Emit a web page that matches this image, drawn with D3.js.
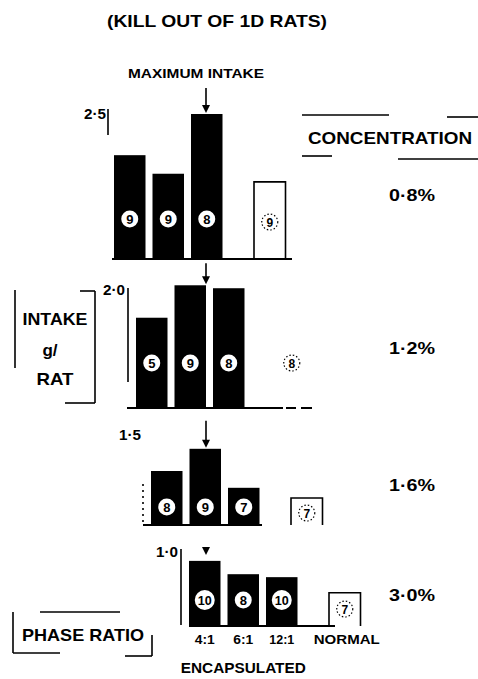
<!DOCTYPE html>
<html><head><meta charset="utf-8">
<script src="https://cdn.jsdelivr.net/npm/d3@7"></script>
<style>
body{margin:0;background:#fff}
svg{display:block}
text{font-family:"Liberation Sans",Arial,sans-serif;font-weight:bold;fill:#000}
</style>
</head><body><svg id="c" width="478" height="679"></svg>
<script>
// ---- data ----
const categories = ["4:1","6:1","12:1","NORMAL"];
const concentrations = ["0·8%","1·2%","1·6%","3·0%"];
const tickValues = [2.5, 2.0, 1.5, 1.0];
const tickLabels = ["2·5","2·0","1·5","1·0"];
const intake08 = [1.79, 1.47, 2.50, 1.33];
const intake12 = [1.53, 2.08, 2.03, 1.30];
const intake16 = [0.90, 1.27, 0.62, 0.45];
const intake30 = [0.88, 0.70, 0.66, 0.45];
const kills08 = [9, 9, 8, 9];
const kills12 = [5, 9, 8, 8];
const kills16 = [8, 9, 7, 7];
const kills30 = [10, 8, 10, 7];

// ---- layout ----
const svg = d3.select("#c");
const STEP = 38.5, BW = 31.5, NORMAL_OFF = 140, ARROW_X = 206;
const panels = [
  {intake:intake08, kills:kills08, base:259, x0:114, ppu:58, labY:219, axisX:108, axisY:[109,135], baseX:[112,292], showNormal:true, arrowLen:25, tickLx:106},
  {intake:intake12, kills:kills12, base:408, x0:136, ppu:59, labY:363, axisX:128, axisY:[288,382], baseX:[127,283], showNormal:false, arrowLen:21, tickLx:125, dashes:[[286,296],[301,312]]},
  {intake:intake16, kills:kills16, base:525, x0:151, ppu:60, labY:507, axisX:143, axisY:[484,525], baseX:[143,262], showNormal:true, arrowLen:27, tickLx:141, dotted:true},
  {intake:intake30, kills:kills30, base:626, x0:189, ppu:74, labY:600, axisX:181, axisY:[549,625], baseX:[189,335], showNormal:true, arrowLen:0, tickLx:178}
];

// title
svg.append("text").attr("x",217).attr("y",27).attr("text-anchor","middle")
  .attr("font-size",17).attr("textLength",220).attr("lengthAdjust","spacingAndGlyphs")
  .text("(KILL OUT OF 1D RATS)");
svg.append("text").attr("x",196).attr("y",78).attr("text-anchor","middle")
  .attr("font-size",13).attr("textLength",136).attr("lengthAdjust","spacingAndGlyphs")
  .text("MAXIMUM INTAKE");

panels.forEach((p, pi) => {
  const g = svg.append("g");
  const tv = tickValues[pi];
  const y = d3.scaleLinear().domain([0, tv]).range([p.base, p.base - tv * p.ppu]);
  const xb = d3.scaleBand().domain(categories.slice(0,3))
    .range([p.x0, p.x0 + STEP * (3 - (STEP-BW)/STEP)]).paddingInner((STEP-BW)/STEP).paddingOuter(0);
  const xPos = c => c === "NORMAL" ? p.x0 + NORMAL_OFF : xb(c);
  const rows = categories.map((c, i) => ({c, v:p.intake[i], k:p.kills[i], normal: c === "NORMAL"}));

  // baseline
  g.append("line").attr("x1",p.baseX[0]).attr("x2",p.baseX[1]).attr("y1",p.base).attr("y2",p.base)
    .attr("stroke","#000").attr("stroke-width",2);
  (p.dashes||[]).forEach(d => g.append("line").attr("x1",d[0]).attr("x2",d[1]).attr("y1",p.base).attr("y2",p.base)
    .attr("stroke","#000").attr("stroke-width",2));

  // y axis: single tick label
  const ax = d3.axisLeft(y).tickValues([tv]).tickFormat(() => tickLabels[pi]).tickSize(0).tickPadding(0);
  const axG = g.append("g").attr("transform",`translate(${p.tickLx},0)`).call(ax);
  axG.select(".domain").remove();
  axG.selectAll("text").attr("font-size",14).attr("font-family","'Liberation Sans',Arial,sans-serif")
    .attr("font-weight","bold").attr("textLength",22).attr("lengthAdjust","spacingAndGlyphs");
  g.append("line").attr("x1",p.axisX).attr("x2",p.axisX).attr("y1",p.axisY[0]).attr("y2",p.axisY[1])
    .attr("stroke","#000").attr("stroke-width",1.6).attr("stroke-dasharray", p.dotted ? "2,4" : null);

  // filled bars
  const enc = rows.filter(r => !r.normal);
  g.selectAll("rect.bar").data(enc).join("rect").attr("class","bar")
    .attr("x", d => xPos(d.c)).attr("width", BW)
    .attr("y", d => y(d.v)).attr("height", d => y(0) - y(d.v)).attr("fill","#000");

  // open (normal) bar
  const nr = rows.find(r => r.normal);
  const nx = xPos("NORMAL");
  if (p.showNormal) {
    g.append("path").attr("d",`M${nx},${y(0)}V${y(nr.v)}H${nx+BW}V${y(0)}`)
      .attr("fill","none").attr("stroke","#000").attr("stroke-width",1.6);
  }

  // kill counts
  enc.forEach(d => {
    const cx = xPos(d.c) + BW/2;
    const r = d.k >= 10 ? 10 : 8.5;
    g.append("circle").attr("cx",cx).attr("cy",p.labY).attr("r",r).attr("fill","#fff");
    g.append("text").attr("x",cx).attr("y",p.labY+4.5).attr("text-anchor","middle")
      .attr("font-size",13).attr("textLength", d.k>=10 ? 14 : null).attr("lengthAdjust","spacingAndGlyphs").text(d.k);
  });
  const ncx = nx + BW/2;
  const nly = p.labY + (pi === 0 ? 3 : pi === 1 ? 0 : 6 + (pi===3?3:0));
  g.append("circle").attr("cx",ncx).attr("cy",nly).attr("r",8).attr("fill","none")
    .attr("stroke","#000").attr("stroke-width",1.2).attr("stroke-dasharray","1.5,2");
  g.append("text").attr("x",ncx).attr("y",nly+4.5).attr("text-anchor","middle").attr("font-size",12).text(nr.k);

  // maximum intake arrow
  const maxV = d3.max(enc, d => d.v);
  const tip = y(maxV) - 1;
  if (p.arrowLen > 0) {
    g.append("line").attr("x1",ARROW_X).attr("x2",ARROW_X).attr("y1",tip - p.arrowLen).attr("y2",tip-4)
      .attr("stroke","#000").attr("stroke-width",1.6);
  }
  const ah = pi === 3 ? tip - 5 : tip;
  g.append("path").attr("d",`M${ARROW_X-4},${ah-8}H${ARROW_X+4}L${ARROW_X},${ah}Z`).attr("fill","#000");

  // concentration label
  const cy = [201,354,491,601][pi];
  g.append("text").attr("x",412).attr("y",cy).attr("text-anchor","middle")
    .attr("font-size",16).attr("textLength",46).attr("lengthAdjust","spacingAndGlyphs").text(concentrations[pi]);

  // category labels at the bottom panel
  if (pi === 3) {
    rows.forEach(d => {
      g.append("text").attr("x", xPos(d.c) + BW/2 + (d.normal ? 2 : 0)).attr("y",644).attr("text-anchor","middle")
        .attr("font-size",13).attr("textLength", d.normal ? 66 : (d.c.length > 3 ? 25 : 20))
        .attr("lengthAdjust","spacingAndGlyphs").text(d.c);
    });
    g.append("text").attr("x", xPos("6:1") + BW/2).attr("y",673).attr("text-anchor","middle")
      .attr("font-size",14).attr("textLength",125).attr("lengthAdjust","spacingAndGlyphs").text("ENCAPSULATED");
  }
});

// CONCENTRATION header
const L = (x1,y1,x2,y2,w) => svg.append("line").attr("x1",x1).attr("y1",y1).attr("x2",x2).attr("y2",y2)
  .attr("stroke","#000").attr("stroke-width",w||1.6);
svg.append("text").attr("x",308).attr("y",144).attr("font-size",17).attr("textLength",164)
  .attr("lengthAdjust","spacingAndGlyphs").text("CONCENTRATION");
L(302,115,389,115); L(447,117,478,117); L(302,156,332,156); L(398,159,478,159);

// INTAKE g/ RAT block
svg.append("text").attr("x",55).attr("y",325).attr("text-anchor","middle").attr("font-size",17)
  .attr("textLength",65).attr("lengthAdjust","spacingAndGlyphs").text("INTAKE");
svg.append("text").attr("x",50).attr("y",356).attr("text-anchor","middle").attr("font-size",17).text("g/");
svg.append("text").attr("x",55).attr("y",385).attr("text-anchor","middle").attr("font-size",17)
  .attr("textLength",37).attr("lengthAdjust","spacingAndGlyphs").text("RAT");
L(80,291,95,291); L(95,291,95,403); L(65,403,95,403); L(15,290,15,368);

// PHASE RATIO block
svg.append("text").attr("x",22).attr("y",641).attr("font-size",17).attr("textLength",122)
  .attr("lengthAdjust","spacingAndGlyphs").text("PHASE RATIO");
L(13,612,13,653); L(13,653,60,653); L(40,612,120,612); L(152,635,152,656); L(125,656,152,656);
</script>
</body></html>
